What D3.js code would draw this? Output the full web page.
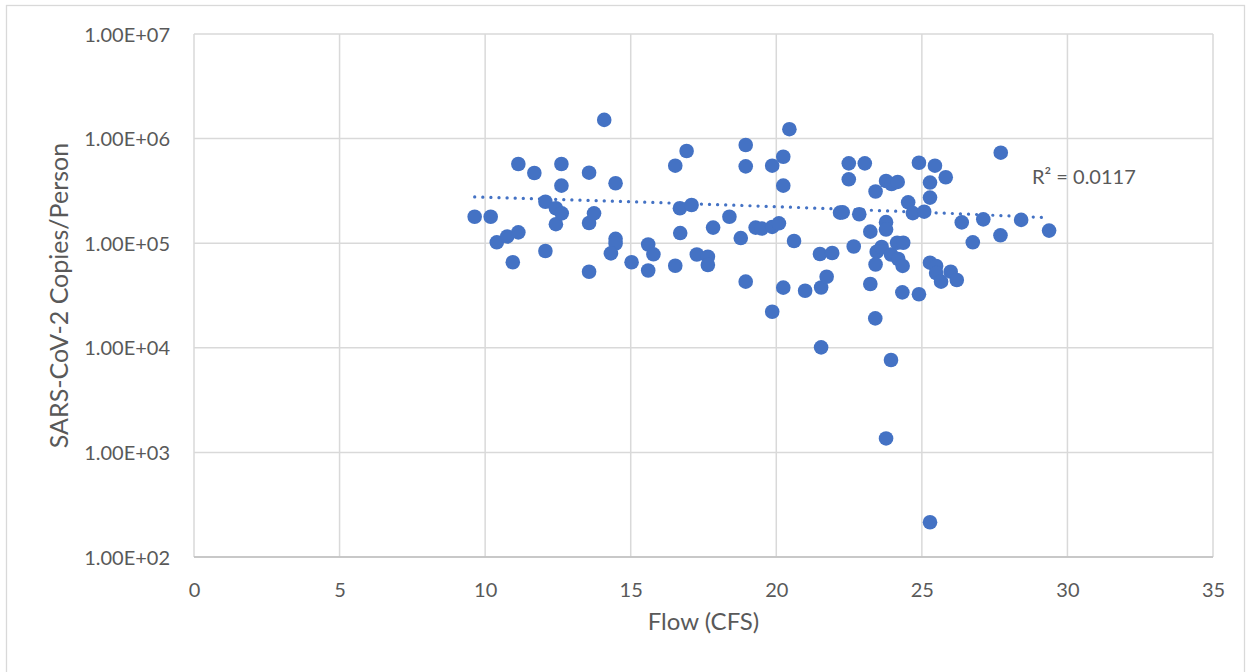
<!DOCTYPE html>
<html>
<head>
<meta charset="utf-8">
<script src="https://cdn.jsdelivr.net/npm/d3@7"></script>
<style>
  html, body { margin: 0; padding: 0; background: #ffffff; }
  svg { display: block; }
  text { font-family: Lato, "Noto Sans", sans-serif; fill: #595959; }
</style>
</head>
<body>
<svg id="chart" width="1250" height="672"></svg>
<script>
// Flow (CFS) for each sample
const flow = [
  9.64, 10.19, 10.40, 10.76, 10.95, 11.14, 11.14, 11.69, 12.07, 12.07,
  12.43, 12.43, 12.62, 12.62, 12.63, 13.57, 13.57, 13.57, 13.74, 14.09,
  14.48, 14.48, 14.48, 14.32, 15.03, 15.60, 15.78, 15.60, 16.53, 16.70,
  17.27, 17.65, 17.65, 16.92, 16.53, 18.95, 18.95, 19.86, 20.24, 20.24,
  20.45, 16.69, 17.09, 18.39, 17.83, 18.78, 19.29, 19.50, 19.86, 20.09,
  20.61, 22.19, 18.95, 20.24, 20.99, 21.54, 21.73, 21.50, 21.92, 19.86,
  21.54, 23.40, 23.94, 23.77, 25.28, 27.71, 22.49, 23.04, 22.49, 24.90,
  25.45, 25.82, 25.28, 25.28, 23.77, 23.96, 24.17, 23.41, 24.53, 24.69,
  25.08, 22.28, 22.85, 23.77, 23.77, 23.23, 26.37, 27.11, 28.41, 27.70,
  26.75, 29.37, 22.66, 23.45, 23.62, 23.41, 23.94, 24.15, 24.36, 24.19,
  24.34, 25.28, 25.49, 25.49, 25.66, 25.99, 26.20, 23.23, 24.33, 24.90
];

// SARS-CoV-2 copies per person for each sample
const copies = [
  1.79e5, 1.79e5, 1.02e5, 1.16e5, 6.57e4, 1.27e5, 5.72e5, 4.69e5, 2.49e5, 8.42e4,
  2.16e5, 1.52e5, 5.72e5, 3.55e5, 1.93e5, 4.72e5, 1.56e5, 5.33e4, 1.93e5, 1.51e6,
  3.74e5, 1.10e5, 9.93e4, 8.00e4, 6.57e4, 9.72e4, 7.83e4, 5.48e4, 6.09e4, 1.25e5,
  7.80e4, 7.43e4, 6.19e4, 7.61e5, 5.51e5, 8.69e5, 5.43e5, 5.51e5, 6.71e5, 3.55e5,
  1.23e6, 2.16e5, 2.32e5, 1.79e5, 1.41e5, 1.12e5, 1.41e5, 1.38e5, 1.43e5, 1.55e5,
  1.05e5, 1.96e5, 4.29e4, 3.76e4, 3.51e4, 3.77e4, 4.78e4, 7.88e4, 8.06e4, 2.21e4,
  1.01e4, 1.91e4, 7.65e3, 1.36e3, 2.15e2, 7.33e5, 5.80e5, 5.80e5, 4.08e5, 5.88e5,
  5.51e5, 4.27e5, 3.80e5, 2.73e5, 3.93e5, 3.68e5, 3.85e5, 3.12e5, 2.46e5, 1.94e5,
  2.00e5, 1.97e5, 1.89e5, 1.59e5, 1.35e5, 1.29e5, 1.58e5, 1.69e5, 1.67e5, 1.19e5,
  1.02e5, 1.32e5, 9.30e4, 8.29e4, 9.20e4, 6.26e4, 7.80e4, 1.01e5, 1.01e5, 7.06e4,
  6.06e4, 6.51e4, 6.06e4, 5.19e4, 4.29e4, 5.34e4, 4.45e4, 4.07e4, 3.39e4, 3.25e4
];

// Axis ticks
const xTicks = [0, 5, 10, 15, 20, 25, 30, 35];
const yTicks = [1e2, 1e3, 1e4, 1e5, 1e6, 1e7];

// Trendline fit statistic shown on the chart
const rSquaredLabel = "R\u00B2 = 0.0117";

const svg = d3.select("#chart");
const plot = { left: 194, right: 1213, top: 34, bottom: 557 };

// Outer chart frame
svg.append("rect")
  .attr("x", 6.5).attr("y", 5.5)
  .attr("width", 1238).attr("height", 700)
  .attr("fill", "#ffffff")
  .attr("stroke", "#d9d9d9").attr("stroke-width", 1.3);

const x = d3.scaleLinear().domain([0, 35]).range([plot.left, plot.right]);
const y = d3.scaleLog().domain([1e2, 1e7]).range([plot.bottom, plot.top]);

const grid = svg.append("g");

// Vertical gridlines
grid.selectAll("line.vx")
  .data(xTicks)
  .join("line")
  .attr("x1", d => x(d)).attr("x2", d => x(d))
  .attr("y1", plot.top).attr("y2", plot.bottom)
  .attr("stroke", "#d9d9d9").attr("stroke-width", 1.5);

// Horizontal gridlines
grid.selectAll("line.hy")
  .data(yTicks)
  .join("line")
  .attr("x1", plot.left).attr("x2", plot.right)
  .attr("y1", d => y(d)).attr("y2", d => y(d))
  .attr("stroke", "#d9d9d9").attr("stroke-width", 1.5);

// Bottom axis line
svg.append("line")
  .attr("x1", plot.left).attr("x2", plot.right)
  .attr("y1", plot.bottom).attr("y2", plot.bottom)
  .attr("stroke", "#bfbfbf").attr("stroke-width", 1.5);

// Tick labels
const fmtSci = d => {
  const e = Math.round(Math.log10(d));
  return "1.00E+" + String(e).padStart(2, "0");
};

const xAxis = d3.axisBottom(x).tickValues(xTicks).tickSize(0).tickPadding(0).tickFormat(d3.format("d"));
const xg = svg.append("g").attr("transform", `translate(0,${plot.bottom})`).call(xAxis);
xg.select(".domain").remove();
xg.selectAll("text")
  .attr("dy", null).attr("y", 40)
  .style("font-size", "20px").attr("fill", "#595959");

const yAxis = d3.axisLeft(y).tickValues(yTicks).tickSize(0).tickPadding(0).tickFormat(fmtSci);
const yg = svg.append("g").attr("transform", `translate(${plot.left},0)`).call(yAxis);
yg.select(".domain").remove();
yg.selectAll("text")
  .attr("x", -24).attr("dy", "0.35em")
  .style("font-size", "20px").attr("fill", "#595959");

// Axis titles
svg.append("text")
  .attr("x", (plot.left + plot.right) / 2).attr("y", 630)
  .attr("text-anchor", "middle")
  .style("font-size", "24px")
  .text("Flow (CFS)");

svg.append("text")
  .attr("transform", `translate(68,${(plot.top + plot.bottom) / 2}) rotate(-90)`)
  .attr("text-anchor", "middle")
  .style("font-size", "25px")
  .text("SARS-CoV-2 Copies/Person");

// Linear least-squares trendline (copies vs flow), drawn as a curve on the log axis
const mx = d3.mean(flow), my = d3.mean(copies);
let sxy = 0, sxx = 0;
flow.forEach((fx, i) => { sxy += (fx - mx) * (copies[i] - my); sxx += (fx - mx) * (fx - mx); });
const slope = sxy / sxx, intercept = my - slope * mx;
const [fMin, fMax] = d3.extent(flow);
const trend = d3.range(0, 41).map(k => {
  const f = fMin + (fMax - fMin) * k / 40;
  return [f, intercept + slope * f];
});

svg.append("path")
  .datum(trend)
  .attr("d", d3.line().x(d => x(d[0])).y(d => y(d[1])))
  .attr("fill", "none")
  .attr("stroke", "#4472c4")
  .attr("stroke-width", 3.2)
  .attr("stroke-linecap", "round")
  .attr("stroke-dasharray", "0.1 8");

// Sample points
svg.append("g")
  .selectAll("circle")
  .data(flow.map((f, i) => [f, copies[i]]))
  .join("circle")
  .attr("cx", d => x(d[0]))
  .attr("cy", d => y(d[1]))
  .attr("r", 7.3)
  .attr("fill", "#4472c4");

// Fit label
svg.append("text")
  .attr("x", 1032).attr("y", 184)
  .style("font-size", "20px")
  .text(rSquaredLabel);
</script>
</body>
</html>
